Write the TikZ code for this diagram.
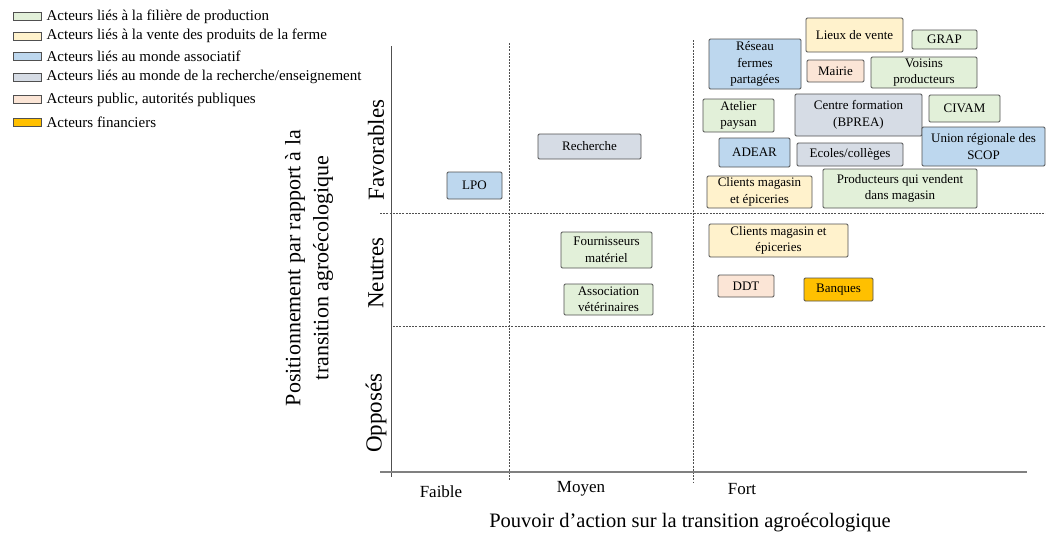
\documentclass[tikz,border=0pt]{standalone}
\usepackage{fontspec}
\setmainfont{Liberation Serif}
\usepackage{xcolor}
\usetikzlibrary{positioning}

\definecolor{prodcol}{HTML}{E2F0D9}
\definecolor{ventecol}{HTML}{FFF2CC}
\definecolor{assocol}{HTML}{BDD7EE}
\definecolor{rechcol}{HTML}{D6DCE5}
\definecolor{publcol}{HTML}{FBE5D6}
\definecolor{fincol}{HTML}{FFC000}
\definecolor{boxline}{HTML}{505050}

\begin{document}
\begin{tikzpicture}[
                        x=1pt, y=-1pt,
                        every node/.style={inner sep=0pt},
                        actor/.style={
                                draw=boxline,
                                line width=0.9pt,
                                rounded corners=1.2pt,
                                align=center,
                                font=\fontsize{13}{16.5}\selectfont,
                            },
                        prod/.style={actor, fill=prodcol},
                        vente/.style={actor, fill=ventecol},
                        asso/.style={actor, fill=assocol},
                        rech/.style={actor, fill=rechcol},
                        publ/.style={actor, fill=publcol},
                        fin/.style={actor, fill=fincol},
                        legbox/.style={draw=boxline, line width=0.8pt, minimum width=28, minimum height=8},
                        legtext/.style={font=\fontsize{15}{17}\selectfont},
                        level/.style={font=\fontsize{17}{20}\selectfont, anchor=base},
                        stance/.style={font=\fontsize{23}{26}\selectfont, rotate=90},
                        grid/.style={boxline, line width=0.7pt, dash pattern=on 2pt off 1.2pt},
                    ]

                    \useasboundingbox (0,0) rectangle (1046,533);

                    % legend
                    \foreach \y/\col/\txt [count=\i] in {
                            16.5/prodcol/{Acteurs liés à la filière de production},
                            36/ventecol/{Acteurs liés à la vente des produits de la ferme},
                            56.5/assocol/{Acteurs liés au monde associatif},
                            77/rechcol/{Acteurs liés au monde de la recherche/enseignement},
                            99.5/publcol/{Acteurs public, autorités publiques},
                            122/fincol/{Acteurs financiers}}{
                            \node[legbox, fill=\col] (leg\i) at (27,\y) {};
                            \node[legtext, right=5pt of leg\i] (legt\i) {\txt};
                        }

                    % axes and grid
                    \draw[grid] (509,43) -- (509,480);
                    \draw[grid] (693,40) -- (693,483);
                    \draw[grid] (380,213) -- (1046,213);
                    \draw[grid] (393,326) -- (1046,326);
                    \draw[boxline, line width=0.9pt] (391,46) -- (391,477);
                    \draw[gray, line width=1.6pt] (380,472) -- (1027,472);

                    \node[level] (faible) at (441,497) {Faible};
                    \node[level] (moyen) at (581,492) {Moyen};
                    \node[level] (fort) at (742,494) {Fort};
                    \node[font=\fontsize{20.5}{24}\selectfont, anchor=base] (xtitle) at (690,527)
                        {Pouvoir d’action sur la transition agroécologique};

                    \node[stance] (favo) at (376,150) {Favorables};
                    \node[stance] (neut) at (376,273) {Neutres};
                    \node[stance] (oppo) at (376,413) {Opposés};
                    \node[rotate=90, align=center, font=\fontsize{22}{28}\selectfont] (ytitle) at (309,268)
                        {Positionnement par rapport à la\\transition agroécologique};

                    % actors
                    \node[asso, minimum width=92, minimum height=50] (reseau) at (755,64) {Réseau\\fermes\\partagées};
                    \node[vente, minimum width=97, minimum height=34] (lieux) at (854.5,35) {Lieux de vente};
                    \node[prod, minimum width=65, minimum height=19] (grap) at (944.5,39.5) {GRAP};
                    \node[publ, minimum width=57, minimum height=22] (mairie) at (835.5,71) {Mairie};
                    \node[prod, minimum width=106, minimum height=31] (voisins) at (924,72.5) {Voisins\\producteurs};
                    \node[prod, minimum width=71, minimum height=33] (atelier) at (738.5,115.5) {Atelier\\paysan};
                    \node[rech, minimum width=127, minimum height=42] (centre) at (858.5,115) {Centre formation\\(BPREA)};
                    \node[prod, minimum width=71, minimum height=27] (civam) at (964.5,108.5) {CIVAM};
                    \node[asso, minimum width=123, minimum height=39] (union) at (983.5,146.5) {Union régionale des\\SCOP};
                    \node[asso, minimum width=71, minimum height=29] (adear) at (754.5,152.5) {ADEAR};
                    \node[rech, minimum width=106, minimum height=23] (ecoles) at (850,154.5) {Ecoles/collèges};
                    \node[vente, minimum width=105, minimum height=32] (clientsfav) at (759.5,192) {Clients magasin\\et épiceries};
                    \node[prod, minimum width=154, minimum height=39] (produc) at (900,188.5) {Producteurs qui vendent\\dans magasin};
                    \node[rech, minimum width=103, minimum height=25] (recherche) at (589.5,146.5) {Recherche};
                    \node[asso, minimum width=55, minimum height=27] (lpo) at (474.5,185.5) {LPO};
                    \node[prod, minimum width=91, minimum height=36] (fourn) at (606.5,250) {Fournisseurs\\matériel};
                    \node[prod, minimum width=89, minimum height=31] (veto) at (608.5,299.5) {Association\\vétérinaires};
                    \node[vente, minimum width=139, minimum height=33] (clientsneu) at (778.5,240.5) {Clients magasin et\\épiceries};
                    \node[publ, minimum width=56, minimum height=22] (ddt) at (746,286) {DDT};
                    \node[fin, minimum width=69, minimum height=23] (banques) at (838.5,289.5) {Banques};
                \end{tikzpicture}
\end{document}
